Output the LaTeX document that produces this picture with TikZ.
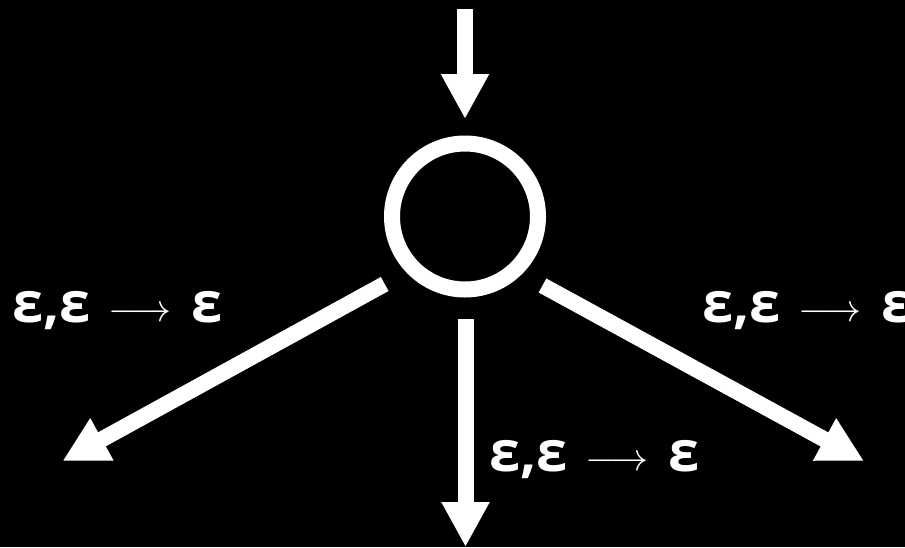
\documentclass[tikz,border=0pt]{standalone}
\usepackage{fontspec}
\setmainfont{Open Sans}
\usetikzlibrary{arrows.meta}
\newcommand{\lbltext}{{\bfseries ε,ε}\hspace{18pt}\raisebox{1pt}{\fontsize{10}{12}\selectfont\scalebox{3.9}{$\longrightarrow$}}\hspace{20pt}{\bfseries ε}}
\begin{document}
\begin{tikzpicture}[x=1pt,y=-1pt,
  arr/.style={draw=white,line width=16pt,-{Triangle[length=45pt,width=45pt]}},
  state/.style={circle,draw=white,line width=16pt,inner sep=0pt,minimum size=146pt},
  lbl/.style={text=white,font=\fontsize{56}{64}\selectfont,inner sep=0pt,anchor=west}]
\fill[black] (0,0) rectangle (905,547);
\useasboundingbox (0,0) rectangle (905,547);
\node[state] (q) at (465,216.5) {};
\coordinate (in) at (465,9);
\coordinate (lt) at (62.5,461);
\coordinate (mt) at (465.5,547);
\coordinate (rt) at (864,461);
\draw[arr,shorten >=16.5pt] (in) -- (q.north);
\draw[arr] ([shift={(-80.3,67.5)}]q.center) -- (lt);
\draw[arr] ([shift={(0.5,102.5)}]q.center) -- (mt);
\draw[arr] ([shift={(77.5,69)}]q.center) -- (rt);
\node[lbl] (l1) at (12,311) {\lbltext};
\node[lbl] (l2) at (489,460) {\lbltext};
\node[lbl] (l3) at (702,311) {\lbltext};
\end{tikzpicture}
\end{document}
